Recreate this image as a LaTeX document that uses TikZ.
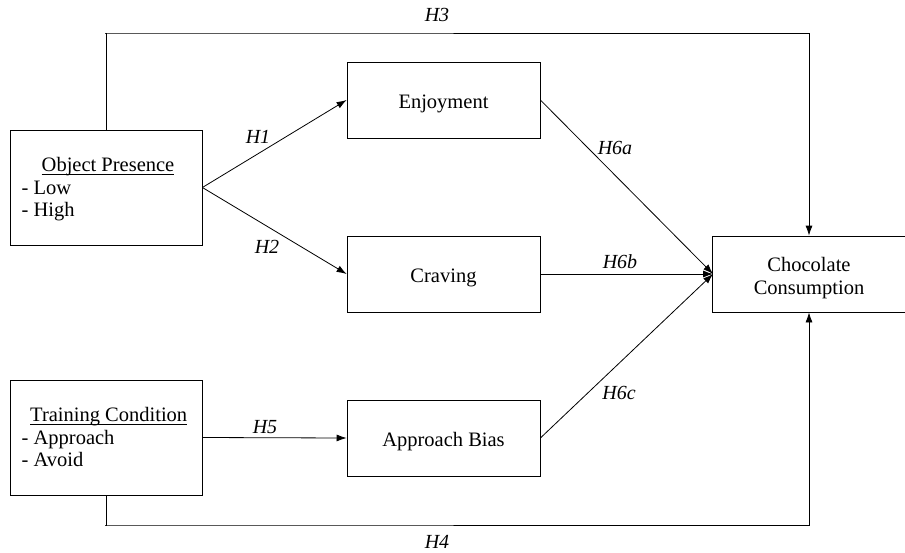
\documentclass[tikz,border=0pt]{standalone}
\usepackage{fontspec}
\setmainfont{Liberation Serif}
\usetikzlibrary{arrows.meta}
% underline sitting close to the baseline
\newcommand\ulabel[1]{\setbox0\hbox{#1}\rlap{\rule[-2.8pt]{\wd0}{0.7pt}}\box0}
\begin{document}
\begin{tikzpicture}[x=1pt,y=-1pt,
  txt/.style={font=\fontsize{20.5}{23}\selectfont},
  box/.style={draw,line width=0.8pt,minimum width=193pt,minimum height=76pt,inner sep=0pt,txt,text height=16pt,text depth=0pt},
  ivbox/.style={draw,line width=0.8pt,minimum width=192pt,minimum height=115pt,inner sep=0pt},
  item/.style={txt,anchor=base west,inner sep=0pt},
  link/.style={line width=0.8pt,-{Latex[length=10pt,width=7pt]}},
  hyp/.style={font=\fontsize{20}{24}\selectfont\itshape}]
\useasboundingbox (0,0) rectangle (905,552);
% independent variables
\node[ivbox] (op) at (106,187.5) {};
\node[item] (op1) at (41.5,171.5) {\ulabel{Object Presence}};
\node[item] (op2) at (21.5,194.3) {- Low};
\node[item] (op3) at (21.5,216.7) {- High};
\node[ivbox] (tc) at (106,437.5) {};
\node[item] (tc1) at (30,421.7) {\ulabel{Training Condition}};
\node[item] (tc2) at (21.5,444.3) {- Approach};
\node[item] (tc3) at (21.5,466.7) {- Avoid};
% mediators and outcome
\node[box] (enj) at (443.5,100) {Enjoyment};
\node[box] (crv) at (443.5,274) {Craving};
\node[box] (ab) at (443.5,438) {Approach Bias};
\node[box] (cc) at (809,274) {};
\node[txt,align=center] (cct) at (809,278) {Chocolate\\Consumption};
\coordinate (m) at (713,274);
% paths
\draw[link] (op.east) -- (enj.west);
\draw[link] (op.east) -- (crv.west);
\draw[link] (tc.east) -- (ab.west);
\draw[link] (enj.east) -- (m);
\draw[link] (crv.east) -- (m);
\draw[link] (ab.east) -- (m);
\draw[link] (op.north) |- (105,33) -| (cc.north);
\draw[link] (tc.south) |- (105,525) -| (cc.south);
% hypothesis labels
\node[hyp] (h3) at (437,15) {H3};
\node[hyp] (h4) at (437,542) {H4};
\node[hyp] (h1) at (258,137) {H1};
\node[hyp] (h2) at (267,247) {H2};
\node[hyp] (h5) at (265,427) {H5};
\node[hyp] (h6a) at (615,148) {H6a};
\node[hyp] (h6b) at (620,262) {H6b};
\node[hyp] (h6c) at (619,393) {H6c};
\end{tikzpicture}
\end{document}
